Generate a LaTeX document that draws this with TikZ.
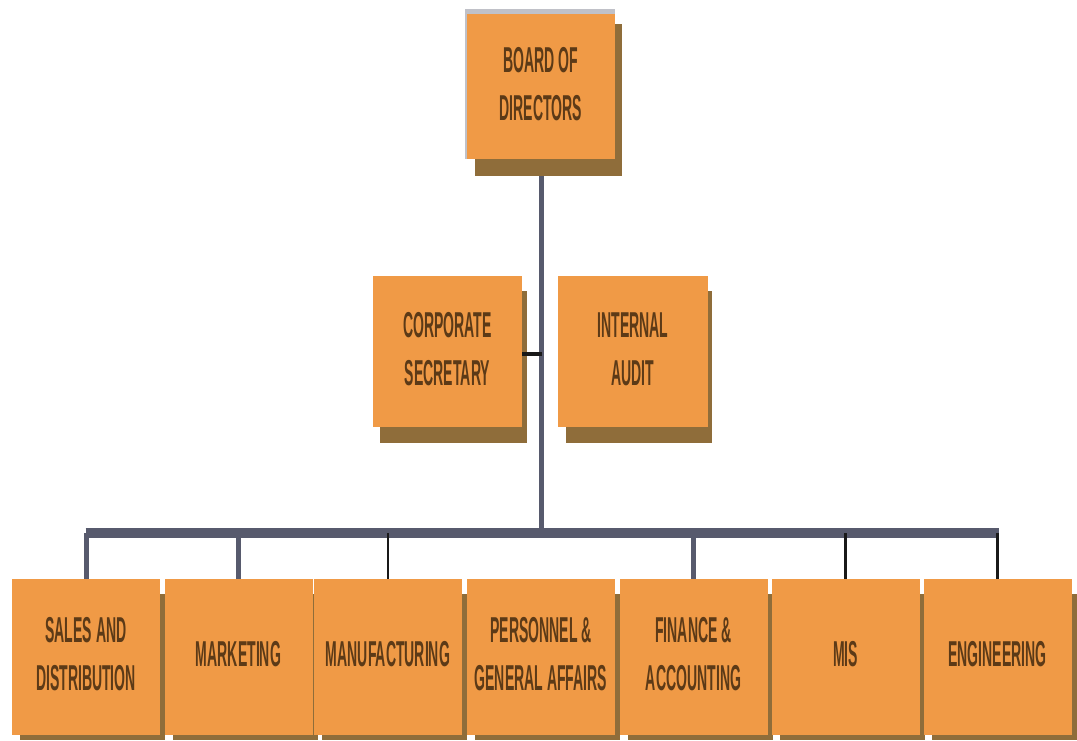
\documentclass[tikz,border=0pt]{standalone}
\usepackage{fontspec}
\usepackage{graphicx}
\setmainfont{Liberation Sans}
\usetikzlibrary{backgrounds}
\definecolor{boxc}{RGB}{240,154,70}
\definecolor{shadc}{RGB}{143,109,58}
\definecolor{linec}{RGB}{87,90,109}
\definecolor{txtc}{RGB}{92,58,23}
\definecolor{bevelc}{RGB}{192,193,200}
\newcommand\cond[1]{\scalebox{0.39}[1]{\fontsize{36}{48}\selectfont\bfseries\begin{tabular}{@{}c@{}}#1\end{tabular}}}
\newcommand\boxshadow[5]{\fill[shadc] ([shift={(#2,#3)}]#1.north west) rectangle ([shift={(#4,#5)}]#1.south east);}
\tikzset{
  orgbox/.style={fill=boxc, inner sep=0pt, outer sep=0pt, text=txtc, minimum width=148, minimum height=156},
  trunkline/.style={draw=linec, line width=5pt},
  barline/.style={draw=linec, line width=10pt},
  graydrop/.style={draw=linec, line width=5pt},
  blackdrop/.style={draw=black!90, line width=2.2pt},
  tickline/.style={draw=black!90, line width=4pt},
}
\begin{document}
\begin{tikzpicture}[x=1pt, y=-1pt]
\useasboundingbox (0,0) rectangle (1077,740);
% nodes
\node[orgbox, minimum height=145] (board) at (541,86.5) {\cond{BOARD OF\\DIRECTORS}};
\node[orgbox, minimum width=149, minimum height=151] (sec) at (447.5,351.5) {\cond{CORPORATE\\SECRETARY}};
\node[orgbox, minimum width=150, minimum height=151] (aud) at (633,351.5) {\cond{INTERNAL\\AUDIT}};
\node[orgbox] (b1) at (86,657) {\cond{SALES AND\\DISTRIBUTION}};
\node[orgbox] (b2) at (238.5,657) {\cond{MARKETING}};
\node[orgbox] (b3) at (388,657) {\cond{MANUFACTURING}};
\node[orgbox] (b4) at (541,657) {\cond{PERSONNEL \&\\GENERAL AFFAIRS}};
\node[orgbox] (b5) at (693.5,657) {\cond{FINANCE \&\\ACCOUNTING}};
\node[orgbox] (b6) at (845.5,657) {\cond{MIS}};
\node[orgbox] (b7) at (997.5,657) {\cond{ENGINEERING}};
% coordinates
\coordinate (barL) at (85.5,533);
\coordinate (barR) at (999,533);
\coordinate (junc) at (541.5,533);
\coordinate (tk) at (541.5,354);
\begin{scope}[on background layer]
  \fill[white] (0,0) rectangle (1077,740);
  \draw[trunkline] (board.south -| junc) -- (junc);
  \boxshadow{board}{8}{10}{7}{17}
  \boxshadow{sec}{7}{15}{5}{16}
  \boxshadow{aud}{8}{15}{4}{16}
  \boxshadow{b1}{8}{15}{5}{5}
  \boxshadow{b2}{8}{15}{5}{5}
  \boxshadow{b3}{8}{15}{5}{5}
  \boxshadow{b4}{8}{15}{5}{5}
  \boxshadow{b5}{8}{15}{5}{5}
  \boxshadow{b6}{8}{15}{5}{5}
  \boxshadow{b7}{8}{15}{5}{5}
  \draw[bevelc, line width=5pt] (466,11.5) -- (615,11.5);
  \draw[bevelc, line width=1.5pt] (466.2,9) -- (466.2,159);
\end{scope}
% connectors
\draw[barline] (barL) -- (barR);
\draw[tickline] (sec.east |- tk) -- (tk);
\draw[graydrop] (b1.north |- junc) -- (b1.north);
\draw[graydrop] (b2.north |- junc) -- (b2.north);
\draw[blackdrop] (b3.north |- junc) -- (b3.north);
\draw[graydrop] (b5.north |- junc) -- (b5.north);
\draw[blackdrop] (b6.north |- junc) -- (b6.north);
\draw[blackdrop] (b7.north |- junc) -- (b7.north);
\end{tikzpicture}
\end{document}
